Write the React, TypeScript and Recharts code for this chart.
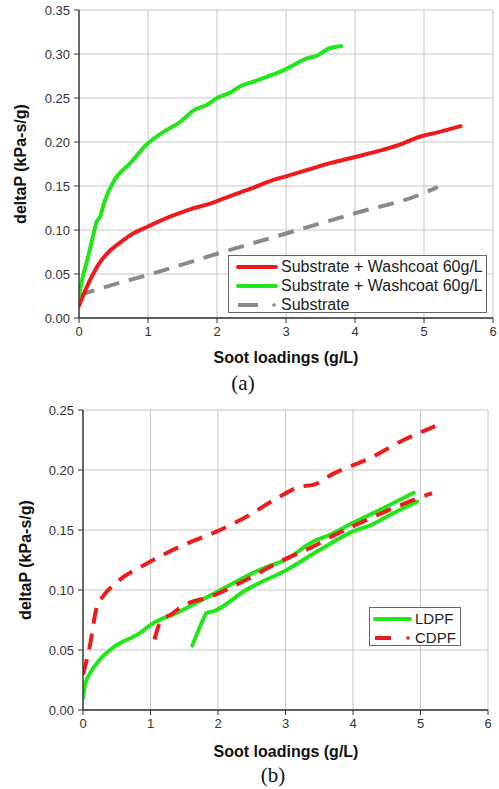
import React from "react";
import { CartesianGrid, Legend, Line, LineChart, XAxis, YAxis } from "recharts";

// ---- panel (a) ----
const washRedX = [0, 0.16, 0.31, 0.41, 0.6, 0.79, 1.0, 1.32, 1.61, 1.9, 2.19, 2.48, 2.82, 3.0, 3.3, 3.64, 4.0, 4.4, 4.7, 4.9, 5.2, 5.53];
const washRedY = [0.014, 0.043, 0.064, 0.0735, 0.086, 0.0962, 0.104, 0.1151, 0.1235, 0.13, 0.1386, 0.1466, 0.157, 0.161, 0.168, 0.176, 0.183, 0.191, 0.1985, 0.205, 0.211, 0.218];
const washGreenX = [0, 0.05, 0.12, 0.2, 0.25, 0.31, 0.36, 0.5, 0.74, 1.0, 1.27, 1.47, 1.66, 1.85, 2.0, 2.19, 2.35, 2.53, 2.72, 2.92, 3.1, 3.3, 3.45, 3.59, 3.8];
const washGreenY = [0.026, 0.045, 0.066, 0.092, 0.108, 0.116, 0.13, 0.155, 0.1757, 0.1985, 0.2136, 0.223, 0.236, 0.242, 0.25, 0.256, 0.264, 0.2685, 0.274, 0.28, 0.287, 0.295, 0.298, 0.305, 0.309];
const substrateX = [0, 0.5, 1, 2, 3, 4, 5, 5.2];
const substrateY = [0.026, 0.038, 0.049, 0.073, 0.096, 0.119, 0.142, 0.149];

// ---- panel (b) ----
const ldpfAX = [0, 0.03, 0.12, 0.25, 0.47, 0.84, 1.0, 1.43, 2.03, 2.62, 3.02, 3.41, 3.66, 4.0, 4.4, 4.9];
const ldpfAY = [0.01, 0.021, 0.032, 0.042, 0.053, 0.064, 0.071, 0.082, 0.0997, 0.1169, 0.1258, 0.1404, 0.146, 0.156, 0.1668, 0.181];
const ldpfBX = [1.62, 1.78, 1.83, 1.93, 2.42, 3.02, 3.51, 4.0, 4.3, 4.55, 4.95];
const ldpfBY = [0.0537, 0.0753, 0.0809, 0.0822, 0.1002, 0.1169, 0.1335, 0.1488, 0.155, 0.1626, 0.1737];
const cdpfAX = [0, 0.1, 0.2, 0.3, 0.47, 0.96, 1.43, 2.03, 2.42, 2.92, 3.21, 3.41, 3.71, 4.25, 4.75, 5.22];
const cdpfAY = [0.0295, 0.053, 0.085, 0.095, 0.105, 0.1225, 0.136, 0.15, 0.161, 0.178, 0.186, 0.1876, 0.197, 0.2098, 0.225, 0.2366];
const cdpfBX = [1.06, 1.14, 1.34, 1.43, 1.93, 2.42, 2.92, 3.41, 3.76, 4.15, 4.65, 5.17];
const cdpfBY = [0.0587, 0.0725, 0.081, 0.085, 0.0953, 0.1086, 0.1238, 0.1363, 0.1468, 0.157, 0.1695, 0.1807];

const xTicks = [0, 1, 2, 3, 4, 5, 6];
const yTicksA = [0, 0.05, 0.1, 0.15, 0.2, 0.25, 0.3, 0.35];
const yTicksB = [0, 0.05, 0.1, 0.15, 0.2, 0.25];

const zip = (xs: number[], ys: number[]) => xs.map((x, i) => ({ x, y: ys[i] }));

const RED = "#ec1c1c";
const GREEN = "#22e61a";
const GRAY = "#8a8a8a";
const FONT = '"Liberation Sans", Arial, sans-serif';
const AXIS = "#333";

type Series = { key: string; data: { x: number; y: number }[]; color: string; dash?: string };
type LegendItem = { label: string; color: string; dashed?: boolean };
type LegendLook = { fontSize: number; rowGap: number; inset: number; sample: number; dashLen: number };

function LegendBox({ items, look }: { items: LegendItem[]; look: LegendLook }) {
  const { fontSize, rowGap, inset, sample, dashLen } = look;
  return (
    <div style={{ border: "1px solid #666", background: "#fff", width: "100%", height: "100%", boxSizing: "border-box", paddingTop: 1 }}>
      {items.map((it) => (
        <div key={it.label} style={{ display: "flex", alignItems: "center", height: rowGap, fontFamily: FONT, fontSize, color: "#222" }}>
          <svg width={sample} height={10} style={{ marginLeft: inset, flex: "none" }}>
            {it.dashed ? (
              <>
                <line x1={3} y1={5} x2={3 + dashLen} y2={5} stroke={it.color} strokeWidth={4} />
                <circle cx={sample - 7} cy={5} r={1.8} fill={it.color} />
              </>
            ) : (
              <line x1={3} y1={5} x2={sample - 5} y2={5} stroke={it.color} strokeWidth={4} strokeLinecap="round" />
            )}
          </svg>
          <span style={{ whiteSpace: "nowrap" }}>{it.label}</span>
        </div>
      ))}
    </div>
  );
}

function Panel(props: {
  width: number;
  height: number;
  left: number;
  right: number;
  top: number;
  bottom: number;
  yMax: number;
  yTicks: number[];
  series: Series[];
  legend: LegendItem[];
  legendBox: { left: number; top: number; width: number; height: number };
  look: LegendLook;
}) {
  const { width, height, left, right, top, bottom, yMax, yTicks, series, legend, legendBox, look } = props;
  const tickStyle = { fontSize: 13, fill: AXIS, fontFamily: FONT };
  return (
    <LineChart width={width} height={height} margin={{ top, right, left: 0, bottom: 0 }}>
      <CartesianGrid stroke="#c6c6c6" strokeWidth={1} />
      <XAxis
        type="number"
        dataKey="x"
        domain={[0, 6]}
        ticks={xTicks}
        allowDataOverflow
        height={bottom}
        tick={tickStyle}
        tickSize={5}
        tickMargin={4}
        stroke={AXIS}
        axisLine={{ stroke: AXIS, strokeWidth: 1.4 }}
        tickLine={{ stroke: AXIS }}
      />
      <XAxis
        xAxisId="top"
        orientation="top"
        type="number"
        domain={[0, 6]}
        ticks={xTicks}
        allowDataOverflow
        mirror
        height={0}
        tick={false}
        tickSize={5}
        axisLine={{ stroke: AXIS, strokeWidth: 1.4 }}
        tickLine={{ stroke: AXIS }}
      />
      <YAxis
        type="number"
        domain={[0, yMax]}
        ticks={yTicks}
        allowDataOverflow
        width={left}
        tick={tickStyle}
        tickFormatter={(v: number) => v.toFixed(2)}
        tickSize={5}
        tickMargin={4}
        axisLine={{ stroke: AXIS, strokeWidth: 1.4 }}
        tickLine={{ stroke: AXIS }}
      />
      <YAxis
        yAxisId="right"
        orientation="right"
        type="number"
        domain={[0, yMax]}
        ticks={yTicks}
        allowDataOverflow
        mirror
        width={0}
        tick={false}
        tickSize={5}
        axisLine={{ stroke: AXIS, strokeWidth: 1.4 }}
        tickLine={{ stroke: AXIS }}
      />
      {series.map((s) => (
        <Line
          key={s.key}
          data={s.data}
          dataKey="y"
          type="monotone"
          stroke={s.color}
          strokeWidth={4}
          strokeDasharray={s.dash}
          strokeLinecap={s.dash ? "butt" : "round"}
          strokeLinejoin="round"
          dot={false}
          activeDot={false}
          legendType="none"
          isAnimationActive={false}
        />
      ))}
      <Legend
        layout="vertical"
        align="center"
        verticalAlign="middle"
        wrapperStyle={{ position: "absolute", ...legendBox, margin: 0 }}
        content={() => <LegendBox items={legend} look={look} />}
      />
    </LineChart>
  );
}

const abs = (extra: React.CSSProperties): React.CSSProperties => ({ position: "absolute", whiteSpace: "nowrap", ...extra });
const title: React.CSSProperties = { fontFamily: FONT, fontWeight: "bold", fontSize: 16, color: "#111" };
const serif = '"Liberation Serif", "Times New Roman", serif';

export default function App() {
  return (
    <div style={{ position: "absolute", left: 0, top: 0, width: 499, height: 789, background: "#fff", overflow: "hidden" }}>
      <div style={abs({ left: 0, top: 0 })}>
        <Panel
          width={499}
          height={350}
          left={79}
          right={6}
          top={10}
          bottom={32}
          yMax={0.35}
          yTicks={yTicksA}
          series={[
            { key: "sub", data: zip(substrateX, substrateY), color: GRAY, dash: "16 10" },
            { key: "red", data: zip(washRedX, washRedY), color: RED },
            { key: "green", data: zip(washGreenX, washGreenY), color: GREEN },
          ]}
          legend={[
            { label: "Substrate + Washcoat 60g/L", color: RED },
            { label: "Substrate + Washcoat 60g/L", color: GREEN },
            { label: "Substrate", color: GRAY, dashed: true },
          ]}
          legendBox={{ left: 228, top: 255, width: 259, height: 58 }}
          look={{ fontSize: 16, rowGap: 19, inset: 6, sample: 46, dashLen: 20 }}
        />
      </div>
      <div style={abs({ left: 0, top: 400 })}>
        <Panel
          width={499}
          height={340}
          left={83}
          right={11}
          top={10}
          bottom={30}
          yMax={0.25}
          yTicks={yTicksB}
          series={[
            { key: "ldpfA", data: zip(ldpfAX, ldpfAY), color: GREEN },
            { key: "ldpfB", data: zip(ldpfBX, ldpfBY), color: GREEN },
            { key: "cdpfA", data: zip(cdpfAX, cdpfAY), color: RED, dash: "16 10" },
            { key: "cdpfB", data: zip(cdpfBX, cdpfBY), color: RED, dash: "16 10" },
          ]}
          legend={[
            { label: "LDPF", color: GREEN },
            { label: "CDPF", color: RED, dashed: true },
          ]}
          legendBox={{ left: 369, top: 207, width: 92, height: 39 }}
          look={{ fontSize: 15, rowGap: 19, inset: 2, sample: 43, dashLen: 16 }}
        />
      </div>

      <div style={abs({ ...title, left: 21, top: 164, transform: "translate(-50%, -50%) rotate(-90deg)" })}>deltaP (kPa-s/g)</div>
      <div style={abs({ ...title, left: 26, top: 560, transform: "translate(-50%, -50%) rotate(-90deg)" })}>deltaP (kPa-s/g)</div>
      <div style={abs({ ...title, left: 286, top: 358, transform: "translate(-50%, -50%)" })}>Soot loadings (g/L)</div>
      <div style={abs({ ...title, left: 286, top: 752, transform: "translate(-50%, -50%)" })}>Soot loadings (g/L)</div>
      <div style={abs({ fontFamily: serif, fontSize: 21, color: "#111", left: 243, top: 383, transform: "translate(-50%, -50%)" })}>(a)</div>
      <div style={abs({ fontFamily: serif, fontSize: 21, color: "#111", left: 273, top: 775, transform: "translate(-50%, -50%)" })}>(b)</div>
    </div>
  );
}
